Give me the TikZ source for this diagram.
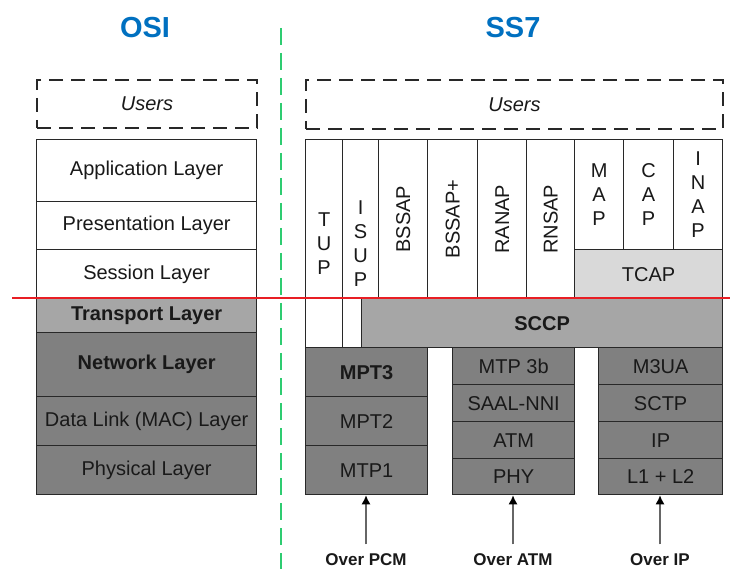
\documentclass[tikz,border=0pt]{standalone}
\usepackage{fontspec}
\setmainfont{Liberation Sans}
\usetikzlibrary{arrows.meta}
\definecolor{osiblue}{RGB}{0,112,192}
\definecolor{sepgreen}{RGB}{46,204,113}
\definecolor{cutred}{RGB}{232,30,36}
\definecolor{edgegray}{RGB}{40,40,40}
\tikzset{
  >=latex,
  {layer/.style} ={draw=edgegray, line width=1.3pt, rectangle, inner sep=0,
                   anchor=north west, text=black!90, align=center,
                   font=\fontsize{20}{24}\selectfont},
  {wh/.style 2 args} ={minimum width=#1pt, minimum height=#2pt},
  {white layer/.style} ={layer, fill=white},
  {light layer/.style} ={layer, fill=black!15},
  {mid layer/.style} ={layer, fill=black!35},
  {dark layer/.style} ={layer, fill=black!50},
  {users/.style} ={layer, line width=2pt, dash pattern=on 14pt off 8pt,
                   font=\fontsize{20}{24}\selectfont\itshape},
  {title/.style} ={font=\fontsize{29}{34}\selectfont\bfseries, text=osiblue},
  {carrier/.style} ={font=\fontsize{17}{20}\selectfont\bfseries, text=black!90},
  {feed/.style} ={draw=black!60, line width=1.3pt,
                  -{Latex[length=9pt,width=9pt,black]}, shorten <=6pt},
  {divider/.style} ={draw=sepgreen, line width=2.2pt, dash pattern=on 17pt off 8pt},
  {cut line/.style} ={draw=cutred, line width=2pt},
}
\begin{document}
\begin{tikzpicture}[x=1pt,y=-1pt]
\useasboundingbox (0,0) rectangle (731,569);
% headings
\node[title] (osi) at (145,28) {OSI};
\node[title] (ss7) at (513,28) {SS7};
\draw[divider] (281,28) -- (281,569);
% OSI stack
\node[users, wh={220}{48}] (osiusers) at (36,79) {Users};
\node[white layer, wh={220}{62}] (app) at (36,139) {Application Layer};
\node[white layer, wh={220}{48}] (pres) at (36,201) {Presentation Layer};
\node[white layer, wh={220}{49}] (sess) at (36,249) {Session Layer};
\node[mid layer, wh={220}{34}, font=\fontsize{20}{24}\selectfont\bfseries] (trans) at (36,298) {Transport Layer};
\node[dark layer, wh={220}{64}, font=\fontsize{20}{24}\selectfont\bfseries] (net) at (36,332) {Network Layer};
\node[dark layer, wh={220}{49}] (link) at (36,396) {Data Link (MAC) Layer};
\node[dark layer, wh={220}{49}] (phys) at (36,445) {Physical Layer};
% SS7 upper part
\node[users, wh={417}{49}] (ss7users) at (305,79) {Users};
\node[white layer, wh={37}{208}] (tup) at (305,139) {T\\U\\P};
\node[white layer, wh={36}{208}] (isup) at (342,139) {I\\S\\U\\P};
\node[white layer, wh={49}{159}] (bssap) at (378,139) {\rotatebox{90}{BSSAP}};
\node[white layer, wh={50}{159}] (bssapp) at (427,139) {\rotatebox{90}{BSSAP+}};
\node[white layer, wh={49}{159}] (ranap) at (477,139) {\rotatebox{90}{RANAP}};
\node[white layer, wh={48}{159}] (rnsap) at (526,139) {\rotatebox{90}{RNSAP}};
\node[white layer, wh={49}{110}] (map) at (574,139) {M\\A\\P};
\node[white layer, wh={50}{110}] (cap) at (623,139) {C\\A\\P};
\node[white layer, wh={49}{110}] (inap) at (673,139) {I\\N\\A\\P};
\node[light layer, wh={148}{49}] (tcap) at (574,249) {TCAP};
\node[mid layer, wh={361}{49}, font=\fontsize{20}{24}\selectfont\bfseries] (sccp) at (361,298) {SCCP};
% SS7 transport stacks
\node[dark layer, wh={122}{49}, font=\fontsize{20}{24}\selectfont\bfseries] (mtp3) at (305,347) {MPT3};
\node[dark layer, wh={122}{49}] (mtp2) at (305,396) {MPT2};
\node[dark layer, wh={122}{49}] (mtp1) at (305,445) {MTP1};
\node[dark layer, wh={122}{37}] (mtp3b) at (452,347) {MTP 3b};
\node[dark layer, wh={122}{37}] (saal) at (452,384) {SAAL-NNI};
\node[dark layer, wh={122}{37}] (atm) at (452,421) {ATM};
\node[dark layer, wh={122}{36}] (phy) at (452,458) {PHY};
\node[dark layer, wh={124}{37}] (m3ua) at (598,347) {M3UA};
\node[dark layer, wh={124}{37}] (sctp) at (598,384) {SCTP};
\node[dark layer, wh={124}{37}] (ip) at (598,421) {IP};
\node[dark layer, wh={124}{36}] (l1l2) at (598,458) {L1 + L2};
% carriers
\node[carrier] (pcm) at (366,560) {Over PCM};
\node[carrier] (overatm) at (513,560) {Over ATM};
\node[carrier] (overip) at (660,560) {Over IP};
\draw[feed] (pcm.north) -- (pcm.north |- mtp1.south);
\draw[feed] (overatm.north) -- (overatm.north |- phy.south);
\draw[feed] (overip.north) -- (overip.north |- l1l2.south);
% session/transport boundary
\draw[cut line] (12,298) -- (730,298);
\end{tikzpicture}
\end{document}
